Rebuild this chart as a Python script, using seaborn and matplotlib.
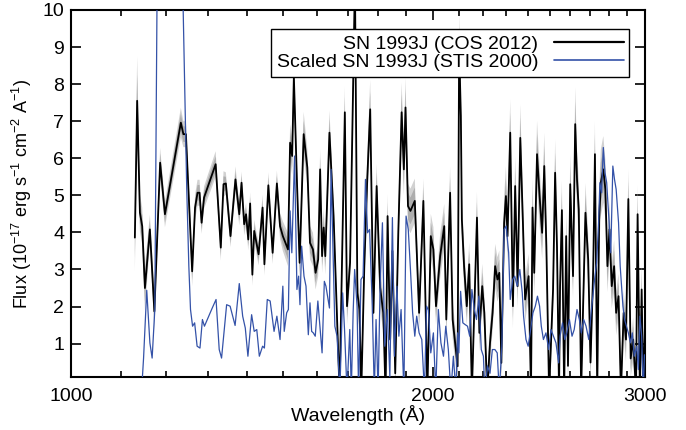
import numpy as np
import pandas as pd
import seaborn as sns
import matplotlib
matplotlib.use("Agg")
import matplotlib.pyplot as plt
from matplotlib.ticker import FixedLocator, NullFormatter

# SN 1993J, COS 2012 (black) - wavelength (A), flux (1e-17 cgs), 1-sigma error
cos_wave = [1130, 1135, 1141, 1146, 1152, 1163, 1173, 1186, 1197, 1234,
            1240, 1246, 1261, 1268, 1274, 1279, 1284, 1290, 1319, 1332,
            1339, 1345, 1357, 1370, 1380, 1386, 1393, 1398, 1404, 1409,
            1415, 1420, 1432, 1443, 1448, 1459, 1471, 1483, 1492, 1500,
            1515, 1521, 1527, 1532, 1541, 1549, 1561, 1572, 1580, 1589,
            1597, 1605, 1611, 1617, 1622, 1627, 1640, 1653, 1672, 1689,
            1696, 1706, 1722, 1730, 1737, 1743, 1753, 1763, 1773, 1784,
            1795, 1807, 1818, 1826, 1833, 1842, 1850, 1860, 1871, 1883,
            1891, 1897, 1906, 1915, 1931, 1947, 1963, 1978, 1991, 2001,
            2011, 2027, 2043, 2051, 2066, 2076, 2096, 2102, 2109, 2113,
            2122, 2133, 2143, 2154, 2164, 2175, 2185, 2197, 2206, 2218,
            2230, 2241, 2252, 2262, 2270, 2279, 2291, 2299, 2306, 2318,
            2330, 2340, 2351, 2363, 2375, 2385, 2401, 2412, 2419, 2427,
            2440, 2452, 2464, 2474, 2484, 2497, 2516, 2526, 2535, 2545,
            2550, 2559, 2570, 2580, 2589, 2600, 2614, 2625, 2634, 2643,
            2655, 2665, 2677, 2691, 2703, 2717, 2726, 2738, 2748, 2757,
            2770, 2781, 2792, 2803, 2815, 2828, 2839, 2852, 2865, 2880,
            2893, 2906, 2919, 2933, 2949, 2958, 2971, 2981, 2990, 3000]
cos_flux = [3.86, 7.55, 4.53, 4.17, 2.50, 4.08, 1.87, 5.88, 4.49, 6.96,
            6.65, 6.65, 2.95, 4.67, 5.07, 5.07, 4.26, 4.94, 5.84, 3.59,
            5.30, 5.32, 3.90, 5.43, 4.49, 5.34, 4.22, 4.49, 3.81, 4.78,
            2.86, 4.04, 3.41, 4.67, 3.14, 5.27, 3.45, 5.32, 4.17, 3.90,
            3.54, 6.42, 6.06, 8.20, 5.39, 3.18, 6.65, 5.75, 3.72, 3.54,
            2.91, 3.27, 5.70, 3.36, 4.13, 3.36, 6.69, 4.44, -0.30, 7.24,
            2.01, 3.18, 10.8, 2.37, 1.92, -0.30, 3.05, 5.43, 7.32, 1.83,
            5.25, 2.51, 1.83, -0.40, 4.44, 1.11, 3.50, 0.20, 4.00, 7.24,
            5.70, 7.37, 4.71, 4.58, 4.85, 1.83, 4.85, -0.30, 3.90, 3.54,
            2.01, 3.36, 4.17, 1.65, 5.07, 1.65, 0.39, 9.00, 7.14, 4.35,
            3.09, 2.01, 3.14, -0.30, 1.92, 4.40, 1.29, 2.55, 1.83, -0.30,
            1.02, 1.83, 3.09, 2.73, 2.91, 0.48, 4.26, 4.98, 3.90, 6.69,
            2.01, 5.25, 2.55, 6.55, 4.26, 2.19, 2.82, -0.30, 4.67, 2.91,
            6.11, 4.98, 3.99, 5.79, 3.63, -0.30, 2.46, 5.61, 3.63, -0.30,
            2.55, 4.60, -0.30, 3.90, 0.40, 5.30, 2.82, 6.92, 5.43, 4.62,
            -0.30, 2.01, 4.53, 3.27, 0.49, 3.00, 6.11, -0.30, 4.35, 5.34,
            5.70, 5.16, 3.09, 4.08, 2.55, 3.09, 1.83, 2.28, -0.30, 1.83,
            1.11, 4.90, 0.60, 1.11, -0.30, 4.49, -0.30, 2.46, -0.30, 1.50]
cos_err = [0.9, 1.2, 0.5, 0.5, 0.6, 0.4, 0.5, 0.4, 0.35, 0.4,
           0.35, 0.35, 0.4, 0.35, 0.35, 0.35, 0.3, 0.3, 0.35, 0.35,
           0.35, 0.3, 0.3, 0.35, 0.3, 0.3, 0.3, 0.3, 0.3, 0.3,
           0.3, 0.3, 0.3, 0.35, 0.3, 0.35, 0.3, 0.35, 0.35, 0.4,
           0.45, 0.5, 0.5, 0.6, 0.5, 0.45, 0.6, 0.5, 0.45, 0.45,
           0.45, 0.45, 0.55, 0.45, 0.5, 0.5, 0.6, 0.5, 0.4, 0.7,
           0.5, 0.5, 0.8, 0.5, 0.5, 0.4, 0.5, 0.6, 0.8, 0.5,
           0.6, 0.6, 0.5, 0.6, 0.6, 0.5, 0.6, 0.5, 0.6, 0.8,
           0.7, 0.8, 0.6, 0.6, 0.6, 0.5, 0.6, 0.5, 0.6, 0.6,
           0.5, 0.6, 0.6, 0.5, 0.7, 0.5, 0.5, 0.9, 0.8, 0.6,
           0.6, 0.5, 0.6, 0.5, 0.5, 0.7, 0.5, 0.6, 0.5, 0.5,
           0.5, 0.5, 0.6, 0.6, 0.6, 0.5, 0.7, 0.8, 0.7, 0.9,
           0.6, 0.8, 0.6, 0.9, 0.7, 0.6, 0.6, 0.5, 0.8, 0.6,
           0.9, 0.8, 0.7, 0.9, 0.7, 0.5, 0.6, 0.9, 0.7, 0.5,
           0.6, 0.8, 0.5, 0.7, 0.5, 0.8, 0.6, 1.0, 0.8, 0.8,
           0.5, 0.6, 0.8, 0.7, 0.5, 0.7, 0.9, 0.5, 0.8, 0.9,
           0.9, 0.8, 0.7, 0.8, 0.6, 0.7, 0.6, 0.6, 0.5, 0.6,
           0.6, 0.8, 0.5, 0.6, 0.5, 0.8, 0.5, 0.7, 0.5, 0.6]

# scaled STIS 2000 spectrum (blue)
stis_wave = [1146, 1149, 1156, 1163, 1168, 1174, 1180, 1236, 1248, 1253,
             1257, 1262, 1267, 1273, 1280, 1286, 1291, 1300, 1310, 1320,
             1328, 1334, 1347, 1356, 1369, 1380, 1389, 1396, 1403, 1413,
             1420, 1427, 1434, 1443, 1448, 1456, 1464, 1475, 1483, 1492,
             1500, 1504, 1511, 1516, 1521, 1526, 1534, 1541, 1546, 1550,
             1555, 1562, 1568, 1575, 1580, 1585, 1590, 1596, 1604, 1617,
             1624, 1629, 1640, 1645, 1657, 1664, 1673, 1682, 1688, 1696,
             1705, 1710, 1716, 1721, 1729, 1734, 1742, 1749, 1757, 1764,
             1771, 1780, 1787, 1793, 1800, 1807, 1815, 1823, 1832, 1841,
             1850, 1857, 1866, 1873, 1881, 1891, 1899, 1907, 1915, 1923,
             1931, 1938, 1947, 1957, 1967, 1975, 1982, 1991, 2001, 2010,
             2020, 2030, 2040, 2049, 2059, 2069, 2079, 2089, 2096, 2101,
             2108, 2117, 2127, 2136, 2145, 2154, 2164, 2173, 2183, 2193,
             2202, 2208, 2219, 2230, 2240, 2251, 2261, 2270, 2281, 2291,
             2300, 2311, 2318, 2329, 2338, 2349, 2361, 2372, 2378, 2389,
             2399, 2408, 2421, 2432, 2442, 2452, 2460, 2470, 2482, 2495,
             2506, 2518, 2530, 2543, 2550, 2562, 2573, 2583, 2596, 2609,
             2620, 2634, 2646, 2656, 2668, 2680, 2694, 2706, 2717, 2726,
             2735, 2745, 2752, 2761, 2770, 2779, 2788, 2801, 2810, 2821,
             2830, 2839, 2852, 2861, 2876, 2885, 2906, 2918, 2928, 2939,
             2953, 2962, 2971, 2981, 2990, 2997]
stis_flux = [0.00, 0.61, 2.44, 1.02, 0.61, 1.92, 12.0, 12.0, 5.16, 3.09,
             1.92, 1.47, 1.56, 0.93, 0.88, 1.65, 1.47, 1.70, 1.95, 2.19,
             0.84, 0.61, 2.05, 2.01, 1.49, 2.62, 1.74, 1.42, 0.66, 1.78,
             1.33, 1.38, 0.66, 0.93, 0.88, 2.19, 2.15, 1.33, 1.74, 1.11,
             2.55, 1.33, 1.83, 1.92, 4.58, 3.45, 6.06, 2.46, 2.82, 2.05,
             3.63, 2.82, 2.55, 1.24, 2.10, 1.33, 1.29, 1.20, 2.15, 0.75,
             2.68, 2.55, 1.96, 5.70, 1.47, 1.20, -0.30, 2.37, 1.38, -0.30,
             1.38, -0.30, 1.83, 3.00, 2.01, -0.30, 2.73, 2.82, 5.43, 3.99,
             4.08, 2.01, -0.30, 1.65, -0.30, 2.55, 4.26, 0.93, 1.92, 0.10,
             4.40, 0.66, 2.55, 1.20, 1.92, -0.30, 4.44, 4.08, 3.00, 1.83,
             1.20, 1.74, 1.29, 1.11, -0.30, 2.01, 1.90, 0.75, 1.29, -0.30,
             1.92, 1.02, 0.66, 1.47, 0.84, -0.30, 0.66, -0.30, 1.29, 0.75,
             2.41, 1.56, 1.51, 1.47, 1.20, 2.46, 1.92, 1.65, 2.28, 0.84,
             0.66, -0.30, 0.40, 0.20, 0.84, 0.84, 0.75, -0.30, 0.93, 4.08,
             4.17, 3.45, 2.19, 2.73, 2.82, 2.55, 3.00, 2.37, 1.74, 1.11,
             0.93, 1.29, 1.83, 2.01, 2.28, 2.01, 1.47, 1.11, 1.29, 0.84,
             1.38, 1.20, 1.02, 0.48, 1.20, 1.56, 1.11, 1.29, 1.65, 1.20,
             1.38, 1.92, 1.65, 1.29, 1.65, 1.47, 1.11, 1.83, 2.37, 2.82,
             3.18, 4.26, 5.34, 5.07, 6.29, 5.61, 5.34, 4.26, 3.45, 5.79,
             5.43, 5.16, 4.26, 3.09, 2.01, 1.65, 1.29, 1.02, 1.29, 0.66,
             0.93, 0.30, 1.74, 1.20, -0.30, 0.70]

cos_df = pd.DataFrame({"wave": cos_wave, "flux": cos_flux, "err": cos_err})
stis_df = pd.DataFrame({"wave": stis_wave, "flux": stis_flux})

sns.set_style("ticks")
plt.rcParams['font.family'] = ['Liberation Sans', 'DejaVu Sans']
plt.rcParams['mathtext.fontset'] = 'custom'
plt.rcParams['mathtext.rm'] = 'Liberation Sans'
plt.rcParams['mathtext.default'] = 'regular'
plt.rcParams['text.color'] = 'black'
plt.rcParams['axes.labelcolor'] = 'black'
plt.rcParams['xtick.color'] = 'black'
plt.rcParams['ytick.color'] = 'black'

fig = plt.figure(figsize=(6.86, 4.30), dpi=100)
ax = fig.add_axes([0.1035, 0.1233, 0.8367, 0.8535])

# error band (soft outer + darker inner)
ax.fill_between(cos_df.wave, cos_df.flux - cos_df.err, cos_df.flux + cos_df.err,
                color="0.82", lw=0, zorder=1)
ax.fill_between(cos_df.wave, cos_df.flux - 0.6 * cos_df.err, cos_df.flux + 0.6 * cos_df.err,
                color="0.68", lw=0, zorder=1)

sns.lineplot(data=cos_df, x="wave", y="flux", color="black", lw=1.3, sort=False,
             estimator=None, ax=ax, label="SN 1993J (COS 2012)", zorder=2)
sns.lineplot(data=stis_df, x="wave", y="flux", color="#3452a8", lw=0.9, sort=False,
             estimator=None, ax=ax, label="Scaled SN 1993J (STIS 2000)", zorder=3)

ax.set_xscale("log")
ax.set_xlim(1000, 3000)
ax.set_ylim(0.1, 10)
ax.set_xticks([1000, 2000, 3000])
ax.set_xticklabels(["1000", "2000", "3000"])
ax.xaxis.set_minor_locator(FixedLocator([w for w in range(1100, 3000, 100) if w != 2000]))
ax.xaxis.set_minor_formatter(NullFormatter())
ax.set_yticks(range(1, 11))
ax.yaxis.set_minor_locator(FixedLocator([]))

ax.tick_params(which="both", direction="in", top=True, right=True, width=1.2,
               colors="black", labelsize=14)
ax.tick_params(which="major", length=7)
ax.tick_params(which="minor", length=4.5)
ax.tick_params(axis="x", pad=8)
ax.tick_params(axis="y", pad=5)
for s in ax.spines.values():
    s.set_linewidth(1.5)
    s.set_color("black")

ax.set_xlabel("Wavelength (Å)", fontsize=14, labelpad=0, color="black")
ax.set_ylabel("Flux (10$^{-17}$ erg s$^{-1}$ cm$^{-2}$ A$^{-1}$)", fontsize=13,
              labelpad=6, color="black")

leg = ax.legend(loc="upper right", bbox_to_anchor=(0.973, 0.948), markerfirst=False,
                frameon=True, fancybox=False, edgecolor="black", framealpha=1,
                fontsize=14, handlelength=3.6, borderaxespad=0, labelspacing=0.05,
                borderpad=0.3, handletextpad=0.8)
leg.get_frame().set_linewidth(1.0)
for text in leg.get_texts():
    text.set_color("black")
for line in leg.get_lines():
    line.set_linewidth(1.6 if line.get_color() == "black" else 1.2)

fig.savefig("out.png", dpi=100)
